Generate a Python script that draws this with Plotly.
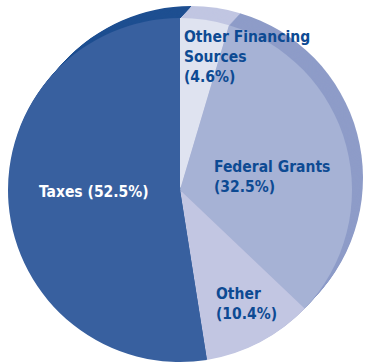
import plotly.graph_objects as go

# Revenue shares, clockwise from 12 o'clock
categories = ["Other Financing Sources", "Federal Grants", "Other", "Taxes"]
shares = [4.6, 32.5, 10.4, 52.5]
label_heads = ["Other Financing<br>Sources<br>", "Federal Grants<br>", "Other<br>", "Taxes "]

face_colors = ["#dfe3f0", "#a6b2d5", "#c2c6e2", "#38609f"]
side_colors = ["#c1c6e2", "#8e9cc8", "#a8aed4", "#1e4f91"]
text_colors = ["#0d4a93", "#0d4a93", "#0d4a93", "#ffffff"]

W, H = 365, 364
R = 172                    # pie radius, px
FRONT = (180, 190)         # centre of the front face, px
DEPTH = (11, -12)          # extrusion offset of the back face, px
STEPS = 12

FONT = "Liberation Sans Narrow, DejaVu Sans Condensed, Arial Narrow, sans-serif"


def domain_for(cx, cy):
    return dict(x=[(cx - R) / W, (cx + R) / W],
                y=[(H - cy - R) / H, (H - cy + R) / H])


def pie(cx, cy, colors):
    return go.Pie(
        labels=categories, values=shares, sort=False,
        direction="clockwise", rotation=0,
        marker=dict(colors=colors, line=dict(width=0)),
        textinfo="none", hoverinfo="skip", showlegend=False,
        domain=domain_for(cx, cy),
    )


fig = go.Figure()

# extruded side wall: stacked copies from the back face forward
for i in range(STEPS, 0, -1):
    t = i / STEPS
    fig.add_trace(pie(FRONT[0] + DEPTH[0] * t, FRONT[1] + DEPTH[1] * t, side_colors))

# front face
fig.add_trace(pie(FRONT[0], FRONT[1], face_colors))

# slice labels: left edge and vertical centre of each block, px
label_pos = [(182, 57), (212, 177), (214, 304), (37, 192)]
annotations = []
for head, share, color, (lx, ly) in zip(label_heads, shares, text_colors, label_pos):
    annotations.append(dict(
        text=f"<b>{head}({share}%)</b>", showarrow=False, align="left",
        xref="paper", yref="paper",
        x=lx / W, y=1 - ly / H,
        xanchor="left", yanchor="middle",
        font=dict(family=FONT, size=15.5, color=color),
    ))

fig.update_layout(
    width=W, height=H,
    margin=dict(l=0, r=0, t=0, b=0),
    paper_bgcolor="white", plot_bgcolor="white",
    annotations=annotations,
)

fig.write_html("out.html")
